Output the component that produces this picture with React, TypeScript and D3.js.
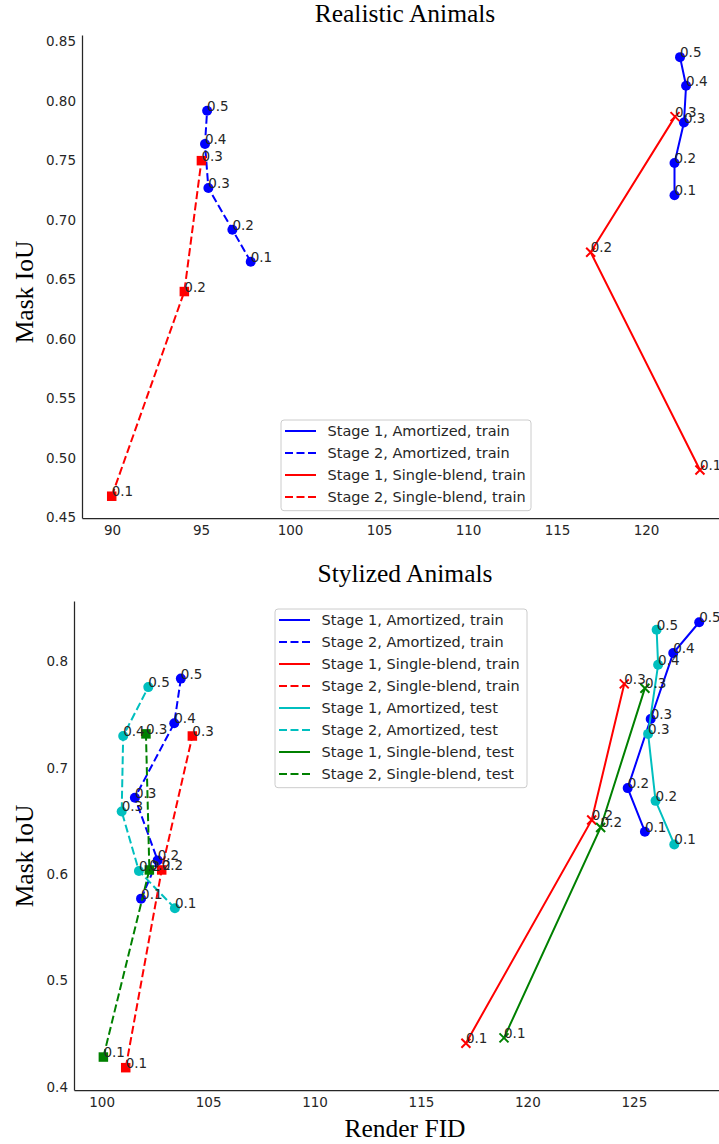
import React, { useEffect, useRef } from 'react'
import * as d3 from 'd3'

const alphas5 = ['0.1', '0.2', '0.3', '0.4', '0.5']
const alphas3 = ['0.1', '0.2', '0.3']

// Realistic Animals (train only)
const real_s1_amort_fid = [121.6, 121.6, 122.13, 122.25, 121.91]
const real_s1_amort_iou = [0.721, 0.748, 0.782, 0.813, 0.837]
const real_s2_amort_fid = [97.79, 96.76, 95.41, 95.22, 95.34]
const real_s2_amort_iou = [0.665, 0.692, 0.727, 0.764, 0.792]
const real_s1_single_fid = [123.03, 116.89, 121.63]
const real_s1_single_iou = [0.49, 0.673, 0.787]
const real_s2_single_fid = [89.98, 94.06, 95.02]
const real_s2_single_iou = [0.468, 0.64, 0.75]

// Stylized Animals
const sty_s1_amort_train_fid = [125.52, 124.71, 125.79, 126.85, 128.07]
const sty_s1_amort_train_iou = [0.64, 0.681, 0.746, 0.808, 0.837]
const sty_s2_amort_train_fid = [101.85, 102.63, 101.56, 103.41, 103.72]
const sty_s2_amort_train_iou = [0.577, 0.613, 0.672, 0.742, 0.784]
const sty_s1_single_train_fid = [117.11, 123.02, 124.55]
const sty_s1_single_train_iou = [0.441, 0.651, 0.779]
const sty_s2_single_train_fid = [101.13, 102.82, 104.26]
const sty_s2_single_train_iou = [0.418, 0.604, 0.73]
const sty_s1_amort_test_fid = [126.9, 126.02, 125.67, 126.14, 126.07]
const sty_s1_amort_test_iou = [0.628, 0.669, 0.732, 0.797, 0.83]
const sty_s2_amort_test_fid = [103.44, 101.75, 100.94, 101.01, 102.19]
const sty_s2_amort_test_iou = [0.568, 0.603, 0.659, 0.73, 0.776]
const sty_s1_single_test_fid = [118.9, 123.44, 125.52]
const sty_s1_single_test_iou = [0.446, 0.644, 0.775]
const sty_s2_single_test_fid = [100.08, 102.24, 102.08]
const sty_s2_single_test_iou = [0.428, 0.604, 0.732]

const real_xticks = [90, 95, 100, 105, 110, 115, 120]
const real_yticks = [0.45, 0.5, 0.55, 0.6, 0.65, 0.7, 0.75, 0.8, 0.85]
const sty_xticks = [100, 105, 110, 115, 120, 125]
const sty_yticks = [0.4, 0.5, 0.6, 0.7, 0.8]

const BLUE = '#0000ff', RED = '#ff0000', CYAN = '#00bfbf', GREEN = '#008000'
const SANS = 'DejaVu Sans'
const SERIF = 'Liberation Serif'
const TEXT = '#262626'

// stage 1 = solid, stage 2 = dashed; amortized = circle, single-blend = x (stage 1) / square (stage 2)
function mk(name, fid, iou, labels, color, stage, method) {
  let marker = 'circle'
  if (method === 'single') marker = stage === 1 ? 'x' : 'square'
  return { name, fid, iou, labels, color, dashed: stage === 2, marker }
}

const real_series = [
  mk('Stage 1, Amortized, train', real_s1_amort_fid, real_s1_amort_iou, alphas5, BLUE, 1, 'amort'),
  mk('Stage 2, Amortized, train', real_s2_amort_fid, real_s2_amort_iou, alphas5, BLUE, 2, 'amort'),
  mk('Stage 1, Single-blend, train', real_s1_single_fid, real_s1_single_iou, alphas3, RED, 1, 'single'),
  mk('Stage 2, Single-blend, train', real_s2_single_fid, real_s2_single_iou, alphas3, RED, 2, 'single'),
]

const sty_series = [
  mk('Stage 1, Amortized, train', sty_s1_amort_train_fid, sty_s1_amort_train_iou, alphas5, BLUE, 1, 'amort'),
  mk('Stage 2, Amortized, train', sty_s2_amort_train_fid, sty_s2_amort_train_iou, alphas5, BLUE, 2, 'amort'),
  mk('Stage 1, Single-blend, train', sty_s1_single_train_fid, sty_s1_single_train_iou, alphas3, RED, 1, 'single'),
  mk('Stage 2, Single-blend, train', sty_s2_single_train_fid, sty_s2_single_train_iou, alphas3, RED, 2, 'single'),
  mk('Stage 1, Amortized, test', sty_s1_amort_test_fid, sty_s1_amort_test_iou, alphas5, CYAN, 1, 'amort'),
  mk('Stage 2, Amortized, test', sty_s2_amort_test_fid, sty_s2_amort_test_iou, alphas5, CYAN, 2, 'amort'),
  mk('Stage 1, Single-blend, test', sty_s1_single_test_fid, sty_s1_single_test_iou, alphas3, GREEN, 1, 'single'),
  mk('Stage 2, Single-blend, test', sty_s2_single_test_fid, sty_s2_single_test_iou, alphas3, GREEN, 2, 'single'),
]

const panels = [
  {
    title: 'Realistic Animals', titleY: 22, series: real_series,
    xlim: [88.31, 124.1], ylim: [0.4497, 0.8556],
    left: 82, right: 719, top: 35, bottom: 518,
    xticks: real_xticks, yticks: real_yticks, yfmt: '.2f',
    ylabelY: 292, xlabel: null,
    legend: { x: 281, y: 420, w: 250 },
  },
  {
    title: 'Stylized Animals', titleY: 582, series: sty_series,
    xlim: [98.7, 129.0], ylim: [0.397, 0.857],
    left: 74, right: 719, top: 601, bottom: 1090,
    xticks: sty_xticks, yticks: sty_yticks, yfmt: '.1f',
    ylabelY: 856, xlabel: 'Render FID',
    legend: { x: 275, y: 609, w: 252 },
  },
]

function drawMarker(g, m, cx, cy, color) {
  if (m === 'circle') {
    g.append('circle').attr('cx', cx).attr('cy', cy).attr('r', 5).attr('fill', color)
  } else if (m === 'square') {
    g.append('rect').attr('x', cx - 4.75).attr('y', cy - 4.75).attr('width', 9.5).attr('height', 9.5).attr('fill', color)
  } else {
    const h = 4.5
    g.append('path')
      .attr('d', `M${cx - h},${cy - h}L${cx + h},${cy + h}M${cx - h},${cy + h}L${cx + h},${cy - h}`)
      .attr('stroke', color).attr('stroke-width', 2).attr('fill', 'none')
  }
}

function drawPanel(svg, p) {
  const g = svg.append('g')
  const x = d3.scaleLinear().domain(p.xlim).range([p.left, p.right])
  const y = d3.scaleLinear().domain(p.ylim).range([p.bottom, p.top])

  const xAxis = g.append('g')
    .attr('transform', `translate(0,${p.bottom})`)
    .call(d3.axisBottom(x).tickValues(p.xticks).tickSize(0).tickSizeOuter(0).tickPadding(7).tickFormat(d3.format('d')))
  const yAxis = g.append('g')
    .attr('transform', `translate(${p.left},0)`)
    .call(d3.axisLeft(y).tickValues(p.yticks).tickSize(0).tickSizeOuter(0).tickPadding(6).tickFormat(d3.format(p.yfmt)))
  for (const a of [xAxis, yAxis]) {
    a.attr('font-family', SANS).attr('font-size', 13.5).attr('color', TEXT)
    a.select('.domain').attr('stroke-width', 1.25)
  }

  const line = d3.line().x((d) => x(d[0])).y((d) => y(d[1]))
  for (const s of p.series) {
    const pts = s.fid.map((f, i) => [f, s.iou[i]])
    g.append('path')
      .attr('d', line(pts))
      .attr('fill', 'none')
      .attr('stroke', s.color)
      .attr('stroke-width', 2)
      .attr('stroke-dasharray', s.dashed ? '8,3.5' : null)
    for (const d of pts) drawMarker(g, s.marker, x(d[0]), y(d[1]), s.color)
  }

  // alpha annotations on top of the lines
  for (const s of p.series) {
    s.fid.forEach((f, i) => {
      g.append('text')
        .attr('x', x(f)).attr('y', y(s.iou[i]))
        .attr('font-family', SANS).attr('font-size', 13.5).attr('fill', TEXT)
        .text(s.labels[i])
    })
  }

  // legend
  const lg = p.legend
  const row = 22
  const leg = g.append('g')
  leg.append('rect')
    .attr('x', lg.x).attr('y', lg.y)
    .attr('width', lg.w).attr('height', row * p.series.length + 2.7)
    .attr('rx', 3)
    .attr('fill', 'white').attr('fill-opacity', 0.8)
    .attr('stroke', '#cccccc').attr('stroke-width', 1)
  p.series.forEach((s, i) => {
    const cy = lg.y + 11 + i * row
    leg.append('line')
      .attr('x1', lg.x + 4).attr('x2', lg.x + 35)
      .attr('y1', cy).attr('y2', cy)
      .attr('stroke', s.color).attr('stroke-width', 2)
      .attr('stroke-dasharray', s.dashed ? '8,3.5' : null)
    leg.append('text')
      .attr('x', lg.x + 46.5).attr('y', cy).attr('dy', '0.35em')
      .attr('font-family', SANS).attr('font-size', 14.5).attr('fill', TEXT)
      .text(s.name)
  })

  g.append('text')
    .attr('x', 405).attr('y', p.titleY)
    .attr('text-anchor', 'middle')
    .attr('font-family', SERIF).attr('font-size', 25.5).attr('fill', 'black')
    .text(p.title)

  g.append('text')
    .attr('transform', `translate(33,${p.ylabelY}) rotate(-90)`)
    .attr('text-anchor', 'middle')
    .attr('font-family', SERIF).attr('font-size', 25.5).attr('fill', 'black')
    .text('Mask IoU')

  if (p.xlabel) {
    g.append('text')
      .attr('x', 405).attr('y', 1137)
      .attr('text-anchor', 'middle')
      .attr('font-family', SERIF).attr('font-size', 25.5).attr('fill', 'black')
      .text(p.xlabel)
  }
}

export default function App() {
  const ref = useRef(null)

  useEffect(() => {
    const svg = d3.select(ref.current)
    svg.selectAll('*').remove()
    for (const p of panels) drawPanel(svg, p)
  }, [])

  return (
    <svg
      ref={ref}
      width={719}
      height={1144}
      viewBox="0 0 719 1144"
      style={{ position: 'absolute', left: 0, top: 0, display: 'block', background: 'white' }}
    />
  )
}
